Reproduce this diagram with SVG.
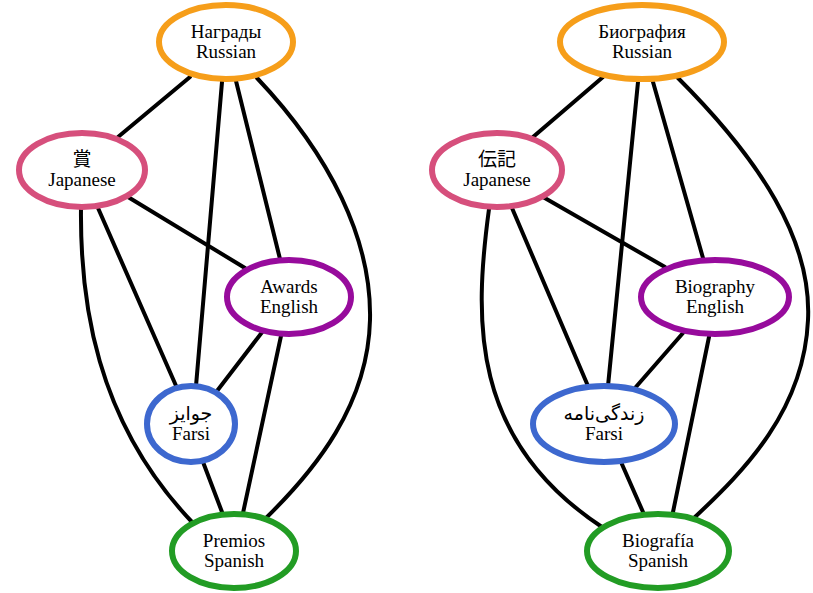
<svg xmlns="http://www.w3.org/2000/svg" width="813" height="593" viewBox="0 0 813 593">
  <style>
    .bg { fill: #ffffff; }
    .edge { fill: none; stroke: #000000; stroke-width: 4; stroke-linecap: round; }
    .node ellipse { fill: #ffffff; stroke-width: 6; }
    .ru ellipse { stroke: #f69e1a; }
    .ja ellipse { stroke: #d64f7c; }
    .en ellipse { stroke: #970b9c; }
    .fa ellipse { stroke: #3d68cf; }
    .es ellipse { stroke: #229c24; }
    .node text { font-family: 'Liberation Serif', 'Times New Roman', 'DejaVu Serif', 'DejaVu Sans', 'Noto Sans CJK JP', serif; font-size: 19px; fill: #000000; text-anchor: middle; }
  </style>
  <rect class="bg" x="0" y="0" width="813" height="593"/>

  <!-- Connectors, left graph (Awards) -->
  <g id="edges">
    <path class="edge" d="M190,77 L118,137"/>
    <path class="edge" d="M222,82 L196,386"/>
    <path class="edge" d="M236,81 L280,259"/>
    <path class="edge" d="M257,78 C330,155 372,240 370,320 C368,405 315,470 266,518"/>
    <path class="edge" d="M128,197 L245,268"/>
    <path class="edge" d="M98,208 L177,388"/>
    <path class="edge" d="M81,208 C80,300 95,420 192,522"/>
    <path class="edge" d="M263,331 L217,391"/>
    <path class="edge" d="M281,336 L243,513"/>
    <path class="edge" d="M203,462 L222,512"/>

    <!-- Connectors, right graph (Biography) -->
    <path class="edge" d="M603,77 L533,137"/>
    <path class="edge" d="M638,82 L608,386"/>
    <path class="edge" d="M653,82 L703,258"/>
    <path class="edge" d="M678,78 C760,160 812,240 808,320 C804,410 745,470 695,517"/>
    <path class="edge" d="M543,197 L665,267"/>
    <path class="edge" d="M512,208 L588,386"/>
    <path class="edge" d="M489,209 C474,320 470,440 602,527"/>
    <path class="edge" d="M683,333 L635,388"/>
    <path class="edge" d="M709,337 L673,512"/>
    <path class="edge" d="M621,462 L643,512"/>
  </g>

  <!-- Nodes, left graph -->
  <g id="awards-ru" class="node ru">
    <ellipse cx="226" cy="42" rx="67" ry="37"/>
    <text x="226" y="38">Награды</text>
    <text x="226" y="58">Russian</text>
  </g>
  <g id="awards-ja" class="node ja">
    <ellipse cx="82" cy="170" rx="63" ry="37"/>
    <text x="82" y="166">賞</text>
    <text x="82" y="186">Japanese</text>
  </g>
  <g id="awards-en" class="node en">
    <ellipse cx="289" cy="297" rx="62" ry="37"/>
    <text x="289" y="293">Awards</text>
    <text x="289" y="313">English</text>
  </g>
  <g id="awards-fa" class="node fa">
    <ellipse cx="191" cy="424" rx="44" ry="38"/>
    <text x="191" y="420">جوایز</text>
    <text x="191" y="440">Farsi</text>
  </g>
  <g id="awards-es" class="node es">
    <ellipse cx="234" cy="551" rx="62" ry="37"/>
    <text x="234" y="547">Premios</text>
    <text x="234" y="567">Spanish</text>
  </g>

  <!-- Nodes, right graph -->
  <g id="bio-ru" class="node ru">
    <ellipse cx="642" cy="42" rx="82" ry="37"/>
    <text x="642" y="38">Биография</text>
    <text x="642" y="58">Russian</text>
  </g>
  <g id="bio-ja" class="node ja">
    <ellipse cx="497" cy="170" rx="65" ry="37"/>
    <text x="497" y="166">伝記</text>
    <text x="497" y="186">Japanese</text>
  </g>
  <g id="bio-en" class="node en">
    <ellipse cx="715" cy="297" rx="74" ry="37"/>
    <text x="715" y="293">Biography</text>
    <text x="715" y="313">English</text>
  </g>
  <g id="bio-fa" class="node fa">
    <ellipse cx="604" cy="424" rx="71" ry="38"/>
    <text x="604" y="420">زندگی&#x200C;نامه</text>
    <text x="604" y="440">Farsi</text>
  </g>
  <g id="bio-es" class="node es">
    <ellipse cx="658" cy="551" rx="71" ry="37"/>
    <text x="658" y="547">Biografía</text>
    <text x="658" y="567">Spanish</text>
  </g>
</svg>
